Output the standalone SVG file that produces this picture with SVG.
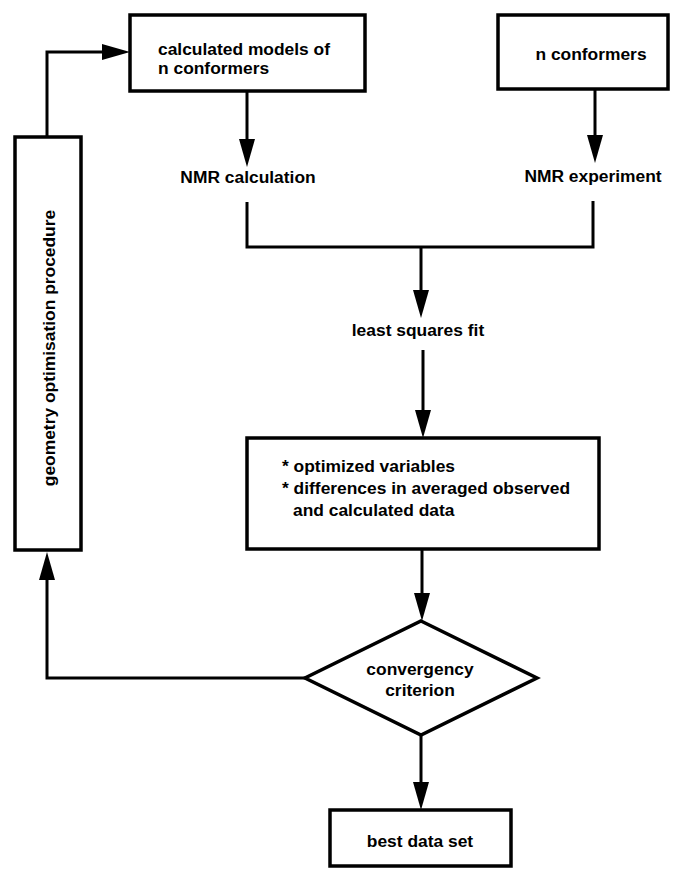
<svg xmlns="http://www.w3.org/2000/svg" width="682" height="870" viewBox="0 0 682 870">
<defs>
<marker id="ah" markerUnits="userSpaceOnUse" viewBox="0 0 28 16" markerWidth="28" markerHeight="16" refX="18" refY="8" orient="auto">
<path d="M0,0 L28,8 L0,16 z" fill="#000"/>
</marker>
<style>
.box{fill:#fff;stroke:#000;stroke-width:3.5}
.ln{fill:none;stroke:#000;stroke-width:3}
.arr{fill:none;stroke:#000;stroke-width:3;marker-end:url(#ah)}
text{font-family:"Liberation Sans",Arial,Helvetica,sans-serif;font-weight:bold;font-size:17.4px;fill:#000}
.c{text-anchor:middle}
</style>
</defs>
<rect width="682" height="870" fill="#fff"/>
<g id="connectors">
<path class="arr" d="M47,137 V52 H120"/>
<path class="arr" d="M247,91 V157"/>
<path class="arr" d="M595,89 V153"/>
<path class="ln" d="M247,202 V247 H593 V201"/>
<path class="arr" d="M421,247 V308"/>
<path class="arr" d="M423,350 V428"/>
<path class="arr" d="M422,549 V611"/>
<path class="arr" d="M421,735 V800"/>
<path class="arr" d="M305,678 H47 V562"/>
</g>
<g id="calc-models">
<rect class="box" x="130" y="15" width="235" height="76"/>
<text x="158" y="55">calculated models of</text>
<text x="158" y="74">n conformers</text>
</g>
<g id="n-conformers">
<rect class="box" x="498" y="15" width="170" height="74"/>
<text class="c" x="591" y="60">n conformers</text>
</g>
<g id="nmr-calc">
<text class="c" x="248" y="183">NMR calculation</text>
</g>
<g id="nmr-exp">
<text class="c" x="593" y="182">NMR experiment</text>
</g>
<g id="lsq">
<text class="c" x="418" y="336">least squares fit</text>
</g>
<g id="results">
<rect class="box" x="247" y="438" width="352" height="111"/>
<text x="282" y="472">* optimized variables</text>
<text x="282" y="494">* differences in averaged observed</text>
<text x="293" y="516">and calculated data</text>
</g>
<g id="convergency">
<path class="box" d="M421,621 L537,678 L421,735 L305,678 z"/>
<text class="c" x="420" y="675">convergency</text>
<text class="c" x="420" y="696">criterion</text>
</g>
<g id="best">
<rect class="box" x="330" y="810" width="181" height="56"/>
<text class="c" x="420" y="847">best data set</text>
</g>
<g id="geometry">
<rect class="box" x="15" y="137" width="66" height="413"/>
<text class="c" transform="translate(55,348) rotate(-90)">geometry optimisation procedure</text>
</g>
</svg>
